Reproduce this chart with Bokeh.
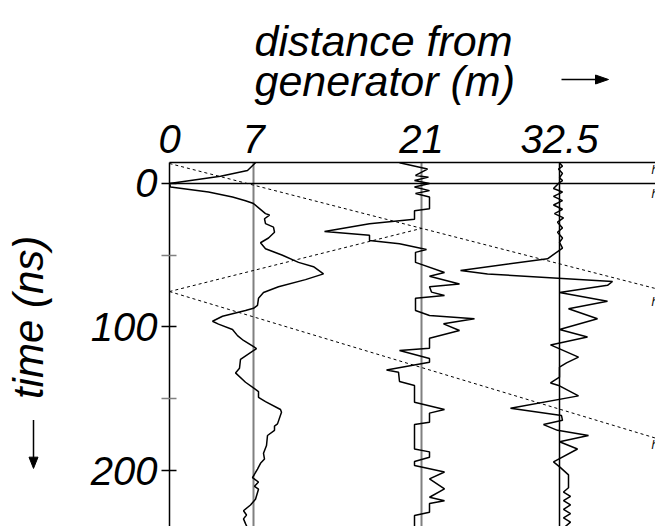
from bokeh.plotting import figure
from bokeh.models import Range1d, FixedTicker, Span
from bokeh.layouts import column, row
from bokeh.core.properties import value
from bokeh.embed import file_html
from bokeh.resources import INLINE

# ---- data -------------------------------------------------------------
positions = [0, 7, 21, 32.5]            # distance from generator (m)
pos_labels = {0: "0", 7: "7", 21: "21", 32.5: "32.5"}
time_ticks = [0, 100, 200]
time_minor = [50, 150]
GAIN = 1 / 12.0                          # metres of deflection per amplitude unit

t7 = [-14.4, -9, -5, 0, 2.5, 6, 9.5, 12, 14, 21, 22, 24.6, 28, 30.4, 34, 38, 41.3, 45.5,
      50, 55, 58, 63, 67, 72, 76, 80, 85, 87, 88.5, 92.5, 96, 98, 101.7, 106, 109.4,
      115, 122.6, 128.7, 132, 138.5, 143, 145, 149, 152, 157.5, 159.4, 167.5, 169, 172,
      175.6, 182.6, 188, 192, 195, 199, 205, 208, 211, 213, 220, 224, 228, 231, 233.7,
      237, 240]
a7 = [2, -6, -33, -84, -83, -45, -21, -8, 0, 12, 16, 11, 12, 20, 21, 15, 7, 12,
      29, 45, 60, 70, 52, 25, 10, 5, 4, 0, -8, -31, -41, -35, -21, -16, -10,
      3, -13, -14, -18, -8, 1, 5, 5, 12, 27, 28, 24, 21, 21,
      14, 13, 10, 11, 7, 4, -1, 5, 1, 5, 2, -3, -10, -7, -10,
      -8, -6]

t21 = [-14.4, -10, -5.6, -4.4, -2, 0, 2.5, 5, 7, 9.5, 17.6, 19, 25, 28, 33.4, 36, 39.7,
       42, 46, 48, 55, 62, 64.6, 70, 72, 75.7, 78, 80, 88.5, 92, 94.3, 97.8, 102.4,
       107.8, 114.8, 116.4, 122, 124.5, 130, 131.5, 138, 140.8, 152.4, 157.5, 160,
       166.3, 168, 185, 187, 190.7, 193.7, 196.5, 201, 205.8, 212.8, 218.6, 221, 223,
       229, 231.4, 239.5]
a21 = [-22, 6, -6, 7, -7, 8, -7, 8, -6, 8, 8, -7, -7, -52, -97, -52, -52,
       -22, 5, -6, -6, 23, 8, 38, 8, 10, 23, -6, -6, 8, 53, 22, 38,
       8, 8, -22, 8, 8, -35, -23, -22, -7, -7, 23, 8,
       8, -7, -7, 8, 8, -7, -7, 23, 8, 23, 8, 23, 8,
       8, -7, -7]

t32 = [-14.4, -12, -10, -7, -4, -2, 0, 3.5, 6, 9, 12, 15, 18, 21, 24, 27, 31, 34, 38, 41,
       45, 52.5, 60.6, 63, 68.3, 71, 76, 82, 87.3, 94.3, 101.7, 107, 112.5, 121, 125,
       128, 135, 139, 141, 148, 156.6, 161.7, 165, 168, 172, 175.6, 180, 185, 194,
       198, 203, 212, 215, 218, 221, 224, 227, 230, 233, 236, 239.5]
a32 = [0, 3, -1, 3, 0, 3, -1, -6, 3, -6, 3, -6, 3, -5, 4, -2, 3, -2, 3, 0,
       3, -12, -99, -72, 53, 48, 0, 48, 9, 38, 0, 28, -9, 19, 7,
       0, 0, -9, 0, 19, -49, 2, 3, -16, -2, 29, 0, 18, -6,
       1, 9, 9, 4, 11, 4, 11, 4, 11, 4, 11, 5]

# travel-time lines (distance m, time ns)
ray1_x = [0, 40.5]
ray1_t = [-13.9, 73.2]
ray2_x = [0, 21]
ray2_t = [75.3, 31.3]
ray3_x = [0, 40.5]
ray3_t = [75.3, 177.4]

edge_label_t = [-14.6, 2.8, 78, 177]
edge_label_text = ["h", "h", "h", "h"]

title_lines = ["distance from", "generator (m)"]
y_title = "time (ns)"

# ---- layout constants -------------------------------------------------
FONT = "Liberation Sans"
W, H = 655, 526
TOP_H = 106          # height of the title strip
LEFT_W = 60          # width of the y-title strip


def blank(width, height):
    f = figure(width=width, height=height, output_backend="svg", toolbar_location=None,
               x_range=Range1d(0, width), y_range=Range1d(height, 0),
               x_axis_type=None, y_axis_type=None,
               min_border_left=0, min_border_right=0, min_border_top=0, min_border_bottom=0)
    f.outline_line_color = None
    f.grid.visible = False
    return f


# ---- title strip ------------------------------------------------------
top = blank(W, TOP_H)
top.text(x=[254, 254], y=[40, 80], text=title_lines, text_font=value(FONT),
         text_font_style="italic", text_font_size="43px", text_color="black",
         text_align="left", text_baseline="alphabetic")
top.segment(x0=[561], y0=[79], x1=[597], y1=[79], line_color="black", line_width=1.5)
top.patch(x=[595, 608, 595], y=[74.5, 79, 83.5], fill_color="black", line_color="black")

# ---- y-title strip ----------------------------------------------------
left = blank(LEFT_W, H - TOP_H)
left.text(x=[28], y=[273], text=[y_title], angle=1.5708, text_font=value(FONT),
          text_font_style="italic", text_font_size="42px", text_color="black",
          text_align="left", text_baseline="alphabetic")
left.segment(x0=[33], y0=[297], x1=[33], y1=[342], line_color="black", line_width=1.5)
left.patch(x=[28.5, 33, 37.5], y=[340, 353, 340], fill_color="black", line_color="black")

# ---- main plot --------------------------------------------------------
p = figure(width=W - LEFT_W, height=H - TOP_H, output_backend="svg", toolbar_location=None,
           x_range=Range1d(0, 40.5), y_range=Range1d(239, -14.6),
           x_axis_location="above",
           min_border_left=169 - LEFT_W, min_border_top=162 - TOP_H,
           min_border_right=0, min_border_bottom=0)
p.outline_line_color = None
p.grid.visible = False
p.background_fill_color = "white"

xa = p.xaxis[0]
xa.ticker = FixedTicker(ticks=positions)
xa.major_label_overrides = pos_labels
xa.major_tick_in = 0
xa.major_tick_out = 0
xa.minor_tick_in = 0
xa.minor_tick_out = 0
xa.axis_line_width = 1.5
xa.major_label_standoff = 10
xa.major_label_text_font = FONT
xa.major_label_text_font_style = "italic"
xa.major_label_text_font_size = "40px"
xa.major_label_text_color = "black"

ya = p.yaxis[0]
ya.ticker = FixedTicker(ticks=time_ticks, minor_ticks=time_minor)
ya.major_tick_in = 7
ya.major_tick_out = 8
ya.minor_tick_in = 7
ya.minor_tick_out = 8
ya.major_tick_line_width = 1.5
ya.minor_tick_line_width = 1.5
ya.minor_tick_line_color = "#808080"
ya.axis_line_width = 1.5
ya.major_label_standoff = 4
ya.major_label_text_font = FONT
ya.major_label_text_font_style = "italic"
ya.major_label_text_font_size = "40px"
ya.major_label_text_color = "black"

p.add_layout(Span(location=0, dimension="width", line_color="black", line_width=1.5))

p.segment(x0=[positions[1], positions[2]], y0=[-14.6, -14.6], x1=[positions[1], positions[2]],
          y1=[239, 239], line_color="#808080", line_width=2)
p.segment(x0=[positions[3]], y0=[-14.6], x1=[positions[3]], y1=[239],
          line_color="black", line_width=1.5)

for rx, rt in ((ray1_x, ray1_t), (ray2_x, ray2_t), (ray3_x, ray3_t)):
    p.line(rx, rt, line_color="black", line_width=1, line_dash="3 3")

for pos, tt, aa in ((positions[1], t7, a7), (positions[2], t21, a21), (positions[3], t32, a32)):
    p.line([pos + a * GAIN for a in aa], tt, line_color="black", line_width=1.5)

p.text(x=[40.17] * len(edge_label_t), y=edge_label_t, text=edge_label_text,
       text_font=value(FONT), text_font_style="italic", text_font_size="12px",
       text_baseline="top", text_align="left", text_color="black")

layout = column(top, row(left, p, spacing=0), spacing=0)
open("out.html", "w").write(file_html(layout, INLINE))
